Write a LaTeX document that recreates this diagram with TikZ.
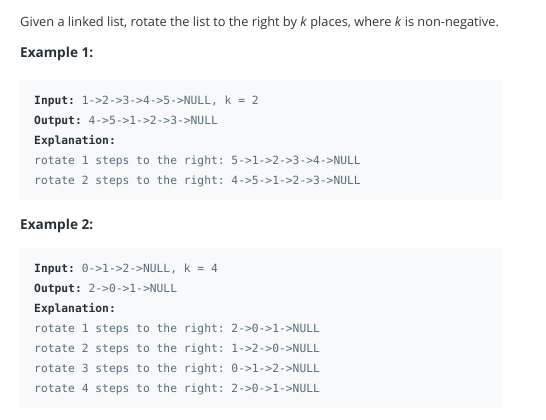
\documentclass[tikz,border=0pt]{standalone}
\usepackage{fontspec}
\setmainfont{Open Sans}
\setmonofont{DejaVu Sans Mono}
\definecolor{titlecol}{HTML}{333333}
\definecolor{headcol}{HTML}{263238}
\definecolor{monocol}{HTML}{546E7A}
\definecolor{boxcol}{HTML}{F7F9FA}
\tikzset{
  title/.style={anchor=base west, inner sep=0pt, text=titlecol, font=\fontsize{12.8}{14}\selectfont},
  head/.style={anchor=base west, inner sep=0pt, text=headcol, font=\fontsize{13.6}{15}\selectfont\bfseries},
  code/.style={anchor=base west, inner sep=0pt, text=monocol, font=\fontsize{11.3}{13}\ttfamily},
  codebox/.style={fill=boxcol, draw=none, rounded corners=3pt},
}
\newcommand{\lbl}[1]{\textcolor{headcol}{\bfseries #1}}
\begin{document}
\begin{tikzpicture}[x=1pt,y=-1pt]
\useasboundingbox[fill=white] (0,0) rectangle (546,420);
\node[title] (t) at (20,27) {Given a linked list, rotate the list to the right by \textit{k} places, where \textit{k} is non-negative.};
\node[head] (h1) at (20,58) {Example 1:};
\path[codebox] (19,80) rectangle (503,200);
\node[code] (a1) at (34,104) {\lbl{Input:} 1->2->3->4->5->NULL, k = 2};
\node[code] (a2) at (34,124) {\lbl{Output:} 4->5->1->2->3->NULL};
\node[code] (a3) at (34,144) {\lbl{Explanation:}};
\node[code] (a4) at (34,164) {rotate 1 steps to the right: 5->1->2->3->4->NULL};
\node[code] (a5) at (34,184) {rotate 2 steps to the right: 4->5->1->2->3->NULL};
\node[head] (h2) at (20,229) {Example 2:};
\path[codebox] (19,248) rectangle (503,408);
\node[code] (b1) at (34,272) {\lbl{Input:} 0->1->2->NULL, k = 4};
\node[code] (b2) at (34,292) {\lbl{Output:} 2->0->1->NULL};
\node[code] (b3) at (34,312) {\lbl{Explanation:}};
\node[code] (b4) at (34,332) {rotate 1 steps to the right: 2->0->1->NULL};
\node[code] (b5) at (34,352) {rotate 2 steps to the right: 1->2->0->NULL};
\node[code] (b6) at (34,372) {rotate 3 steps to the right: 0->1->2->NULL};
\node[code] (b7) at (34,392) {rotate 4 steps to the right: 2->0->1->NULL};
\end{tikzpicture}
\end{document}
